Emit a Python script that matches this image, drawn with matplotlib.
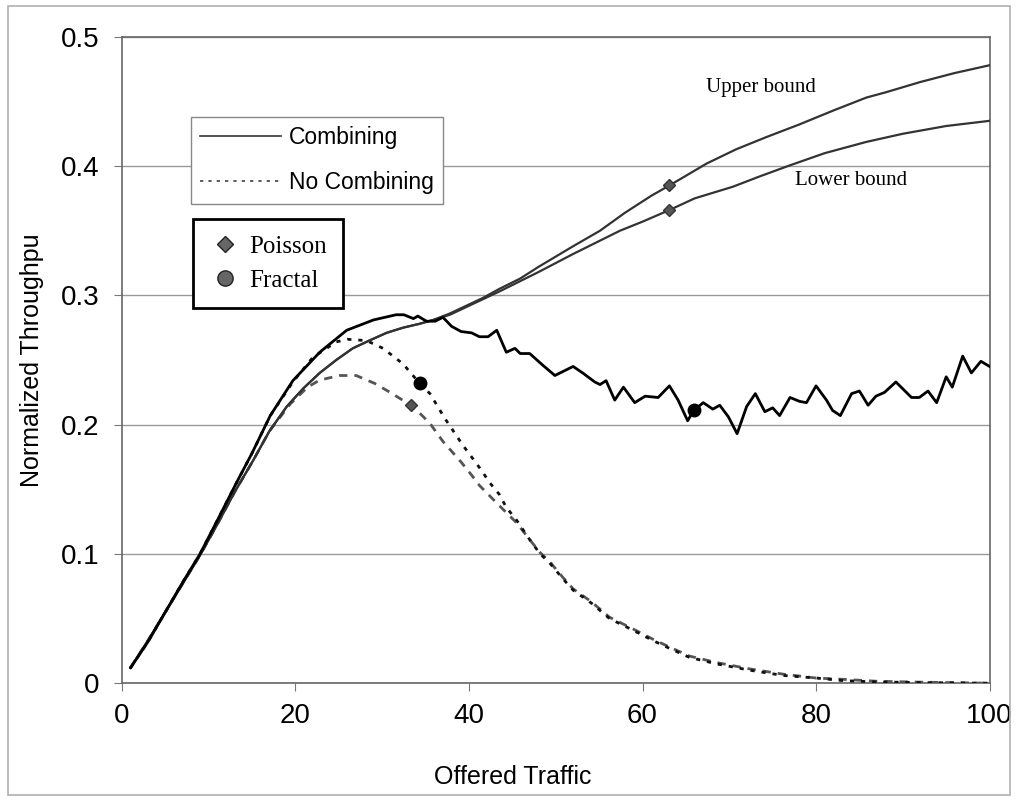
import matplotlib
matplotlib.use("Agg")
import matplotlib.pyplot as plt
from matplotlib.lines import Line2D
from matplotlib.patches import Rectangle

SANS = ["Liberation Sans", "DejaVu Sans"]
SERIF = ["Liberation Serif", "DejaVu Serif"]

# Fractal traffic, with combining (simulated, noisy)
frac_comb_x = [1, 3, 5, 7, 9, 11, 13.2, 15, 17.1, 19.7, 22.8, 25.9, 29.0, 31.6,
               32.5, 33.6, 34.1, 35.1, 36.1, 37.0, 38.0, 39.1, 40.3, 41.2, 42.2,
               43.2, 44.3, 45.3, 45.9, 47.0, 48.5, 49.9, 50.8, 52.0, 53.1, 54.5,
               55.1, 55.8, 56.8, 57.8, 59.1, 60.3, 61.8, 63.1, 64.1, 65.2, 65.9,
               67.0, 68.1, 68.9, 69.9, 70.9, 72.0, 73.0, 74.1, 75.0, 75.8, 77.0,
               78.1, 78.9, 80.0, 81.2, 81.9, 82.8, 84.1, 85.0, 86.0, 86.9, 87.9,
               89.2, 91.0, 91.9, 92.9, 93.9, 95.0, 95.7, 96.9, 97.9, 99.0, 100]
frac_comb_y = [0.012, 0.032, 0.055, 0.078, 0.100, 0.126, 0.155, 0.178, 0.207,
               0.234, 0.256, 0.273, 0.281, 0.285, 0.285, 0.282, 0.284, 0.280,
               0.280, 0.283, 0.276, 0.272, 0.271, 0.268, 0.268, 0.273, 0.256,
               0.259, 0.255, 0.255, 0.246, 0.238, 0.241, 0.245, 0.240, 0.233,
               0.231, 0.234, 0.219, 0.229, 0.217, 0.222, 0.221, 0.230, 0.219,
               0.203, 0.211, 0.217, 0.212, 0.215, 0.206, 0.193, 0.214, 0.224,
               0.210, 0.213, 0.207, 0.221, 0.218, 0.217, 0.230, 0.219, 0.211,
               0.207, 0.224, 0.226, 0.215, 0.222, 0.225, 0.233, 0.221, 0.221,
               0.226, 0.217, 0.237, 0.229, 0.253, 0.240, 0.249, 0.245]

# Poisson traffic, with combining: upper and lower analytical bounds
pois_x = [1, 3, 5, 7, 9, 11, 13, 15.1, 17, 19, 20.9, 22.8, 24.7, 26.6, 28.5,
          30.5, 32.4, 34.3, 35.9, 37.8, 39.7, 41.6, 43.5, 45.9, 48, 50, 52,
          55.1, 58, 61, 63.1, 67.4, 70.8, 74.3, 78, 82, 85.8, 88, 92, 96, 100]
pois_upper = [0.012, 0.033, 0.055, 0.077, 0.099, 0.123, 0.148, 0.172, 0.195,
              0.214, 0.228, 0.240, 0.250, 0.259, 0.265, 0.271, 0.275, 0.278,
              0.281, 0.286, 0.292, 0.298, 0.305, 0.313, 0.322, 0.330, 0.338,
              0.350, 0.364, 0.377, 0.385, 0.402, 0.413, 0.4225, 0.432, 0.443,
              0.453, 0.457, 0.465, 0.472, 0.478]
pois_lower_x = [1, 3, 5, 7, 9, 11, 13, 15.1, 17, 19, 20.9, 22.8, 24.7, 26.6,
                28.5, 30.5, 32.4, 34.3, 35.9, 37.8, 39.7, 41.6, 43.5, 45.9, 48,
                50, 52, 55, 57.4, 60, 63.1, 66, 70.4, 73.5, 77, 81, 85.8, 90,
                95, 100]
pois_lower = [0.012, 0.033, 0.055, 0.077, 0.099, 0.123, 0.148, 0.172, 0.195,
              0.214, 0.228, 0.240, 0.250, 0.259, 0.265, 0.271, 0.275, 0.278,
              0.281, 0.285, 0.291, 0.297, 0.303, 0.311, 0.318, 0.325, 0.332,
              0.342, 0.350, 0.357, 0.366, 0.375, 0.384, 0.392, 0.4006, 0.410,
              0.4187, 0.425, 0.431, 0.435]

# Without combining
frac_nocomb_x = [1, 3, 5, 7, 9, 11, 13.2, 15, 17.1, 19.7, 22, 24.7, 26, 28.2,
                 30.1, 32.4, 34.3, 35.5, 37.2, 38.2, 39.3, 40.3, 41.4, 42.4,
                 43.5, 44.3, 45.5, 47.0, 48.2, 49.3, 50.8, 52, 54.1, 56.2, 58.9,
                 61.2, 63.1, 65.4, 68.5, 72.4, 76.2, 80, 83.1, 87, 92, 100]
frac_nocomb_y = [0.012, 0.032, 0.055, 0.078, 0.100, 0.126, 0.155, 0.178, 0.207,
                 0.233, 0.252, 0.264, 0.266, 0.265, 0.259, 0.247, 0.232, 0.224,
                 0.205, 0.195, 0.184, 0.175, 0.165, 0.155, 0.146, 0.136, 0.126,
                 0.111, 0.100, 0.093, 0.081, 0.072, 0.062, 0.050, 0.041, 0.033,
                 0.027, 0.020, 0.015, 0.010, 0.006, 0.004, 0.002, 0.001, 0.0005,
                 0.0]
pois_nocomb_x = [1, 3, 5, 7, 9, 11, 13, 15.1, 17, 19.4, 21.4, 22.8, 25.1, 27,
                 29.1, 30.9, 33.3, 34.3, 35.5, 37, 39.1, 40.3, 41.2, 43.4, 45.5,
                 47, 48.2, 49.3, 50.8, 52, 54.1, 56.2, 58.9, 61.2, 63.1, 65.4,
                 68.5, 72.4, 76.2, 80, 83.1, 87, 92, 100]
pois_nocomb_y = [0.012, 0.033, 0.055, 0.077, 0.099, 0.123, 0.148, 0.172, 0.195,
                 0.216, 0.229, 0.2345, 0.238, 0.238, 0.232, 0.225, 0.215, 0.209,
                 0.201, 0.187, 0.171, 0.161, 0.153, 0.138, 0.124, 0.111, 0.101,
                 0.094, 0.082, 0.073, 0.063, 0.051, 0.042, 0.034, 0.028, 0.021,
                 0.016, 0.011, 0.007, 0.004, 0.003, 0.0015, 0.0008, 0.0]

# highlighted operating points
poisson_pts_x = [63.1, 63.1, 33.3]
poisson_pts_y = [0.385, 0.366, 0.215]
fractal_pts_x = [34.3, 65.9]
fractal_pts_y = [0.232, 0.211]

x_ticks = [0, 20, 40, 60, 80, 100]
y_ticks = [0, 0.1, 0.2, 0.3, 0.4, 0.5]
y_tick_labels = ["0", "0.1", "0.2", "0.3", "0.4", "0.5"]

fig = plt.figure(figsize=(10.16, 8), dpi=100)
fig.patches.append(Rectangle((0.008, 0.006), 0.986, 0.986, transform=fig.transFigure,
                             fill=False, edgecolor="#b0b0b0", lw=1.2))
ax = fig.add_axes([0.120, 0.146, 0.854, 0.808])

ax.plot(pois_nocomb_x, pois_nocomb_y, color="#555555", lw=2.0,
        dashes=(3, 2.5), zorder=3)
ax.plot(frac_nocomb_x, frac_nocomb_y, color="#111111", lw=2.0,
        dashes=(1.5, 2.5), zorder=3)
ax.plot(pois_x, pois_upper, color="#333333", lw=1.6, zorder=4)
ax.plot(pois_lower_x, pois_lower, color="#333333", lw=1.6, zorder=4)
ax.plot(frac_comb_x, frac_comb_y, color="black", lw=2.0, zorder=5)

ax.plot(poisson_pts_x, poisson_pts_y, ls="none", marker="D", ms=6.5,
        mfc="#555555", mec="#333333", zorder=6)
ax.plot(fractal_pts_x, fractal_pts_y, ls="none", marker="o", ms=9,
        mfc="black", mec="black", zorder=6)

ax.text(73.7, 0.4605, "Upper bound", family=SERIF, fontsize=15,
        ha="center", va="center")
ax.text(84.0, 0.3885, "Lower bound", family=SERIF, fontsize=15,
        ha="center", va="center")

ax.set_xlim(0, 100)
ax.set_ylim(0, 0.5)
ax.set_xticks(x_ticks)
ax.set_xticklabels([str(v) for v in x_ticks])
ax.set_yticks(y_ticks)
ax.set_yticklabels(y_tick_labels)
ax.grid(axis="y", color="#999999", lw=1.0)
ax.set_axisbelow(True)
for lbl in ax.get_xticklabels() + ax.get_yticklabels():
    lbl.set_family(SANS)
    lbl.set_fontsize(20)
ax.tick_params(axis="both", direction="out", length=6, color="#777777")
ax.tick_params(axis="x", pad=8)
ax.tick_params(axis="y", pad=10)
for sp in ax.spines.values():
    sp.set_color("#666666")
    sp.set_linewidth(1.2)

ax.set_xlabel("Offered Traffic", family=SANS, fontsize=18)
ax.xaxis.set_label_coords(0.451, -0.127)
ax.set_ylabel("Normalized Throughpu", family=SANS, fontsize=18, labelpad=12)

h1 = [Line2D([], [], color="#333333", lw=1.2),
      Line2D([], [], color="#444444", lw=1.2, dashes=(2, 3))]
leg1 = ax.legend(h1, ["Combining", "No Combining"], loc="upper left",
                 bbox_to_anchor=(0.0796, 0.876), borderaxespad=0,
                 prop={"family": SANS, "size": 16.5}, frameon=True, fancybox=False,
                 edgecolor="#888888", framealpha=1, handlelength=3.5,
                 handletextpad=0.35, labelspacing=0.96, borderpad=0.41)
leg1.get_frame().set_linewidth(1.0)
ax.add_artist(leg1)

h2 = [Line2D([], [], ls="none", marker="D", ms=8, mfc="#666666", mec="#222222"),
      Line2D([], [], ls="none", marker="o", ms=11, mfc="#666666", mec="#222222")]
leg2 = ax.legend(h2, ["Poisson", "Fractal"], loc="upper left",
                 bbox_to_anchor=(0.0819, 0.718), borderaxespad=0,
                 prop={"family": SERIF, "size": 18}, frameon=True, fancybox=False,
                 edgecolor="black", framealpha=1, handlelength=1.3,
                 handletextpad=0.3, labelspacing=0.45, borderpad=0.65)
leg2.get_frame().set_linewidth(2.0)

fig.savefig("out.png", dpi=100)
